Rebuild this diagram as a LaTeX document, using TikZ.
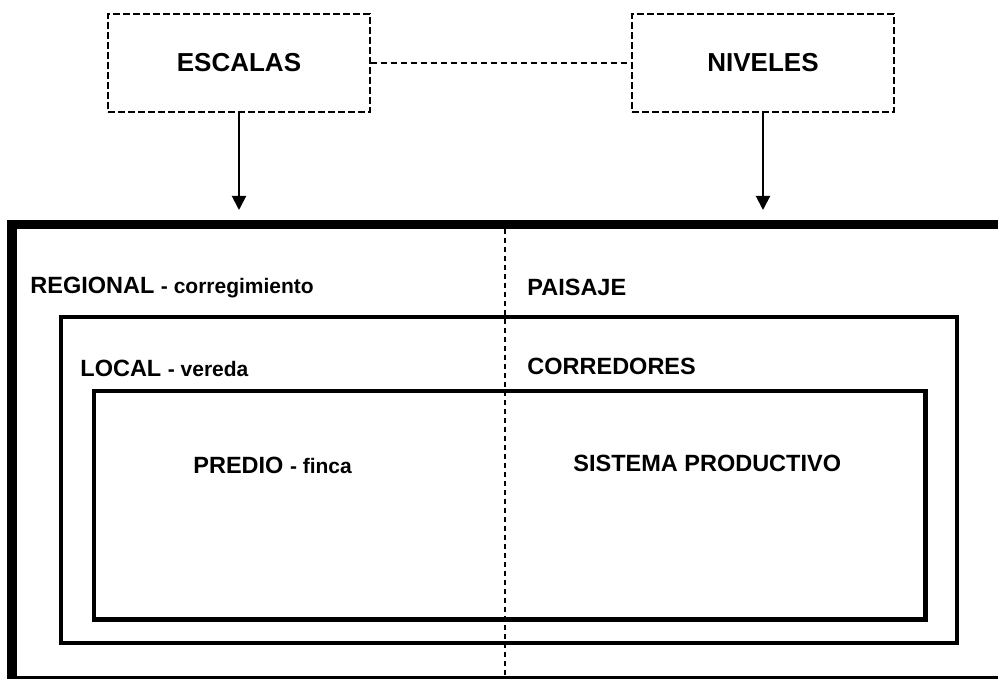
\documentclass[tikz,border=0pt]{standalone}
\usepackage{fontspec}
\setmainfont{Liberation Sans}
\usetikzlibrary{arrows.meta}

\newcommand*{\picw}{998}
\newcommand*{\pich}{679}

\begin{document}
\begin{tikzpicture}
[
	x=0.5pt, y=-0.5pt,
	topbox/.style={draw,dash pattern=on 3.3pt off 1.7pt,line width=0.65pt,minimum width=131pt,minimum height=49pt,inner sep=0pt,font=\fontsize{13}{15}\selectfont\bfseries},
	topline/.style={dash pattern=on 3.3pt off 1.7pt,line width=0.65pt},
	link/.style={line width=1pt,-{Triangle[width=7pt,length=7pt]}},
	outerframe/.style={line width=4.75pt},
	innerframe/.style={line width=2.25pt},
	divider/.style={dash pattern=on 2.5pt off 2pt,line width=0.65pt},
	scalelabel/.style={anchor=base west,inner sep=0pt,font=\fontsize{11.75}{14}\selectfont\bfseries},
	small/.style={font=\fontsize{10.5}{12}\selectfont\bfseries}
]

	\clip (0,0) rectangle (\picw,\pich);

	% top boxes
	\node[topbox] (escalas) at (239,63) {ESCALAS};
	\node[topbox] (niveles) at (763,63) {NIVELES};
	\draw[topline] (escalas) -- (niveles);

	% arrows
	\coordinate (escalas tip) at (239,210);
	\coordinate (niveles tip) at (763,210);
	\draw[link] (escalas) -- (escalas tip);
	\draw[link] (niveles) -- (niveles tip);

	% frames
	\draw[outerframe] (12,224.5) rectangle (1010,681);
	\draw[innerframe] (61,317) rectangle (957,643);
	\draw[innerframe] (94,391) rectangle (925.5,619.5);
	\draw[divider] (505,229) -- (505,\pich);

	% scales
	\node[scalelabel] (regional) at (30,294) {REGIONAL {\fontsize{10.5}{12}\selectfont- corregimiento}};
	\node[scalelabel] (local) at (80,377) {LOCAL {\fontsize{10.5}{12}\selectfont- vereda}};
	\node[scalelabel] (predio) at (193,474) {PREDIO {\fontsize{10.5}{12}\selectfont- finca}};

	% levels
	\node[scalelabel] (paisaje) at (527,296) {PAISAJE};
	\node[scalelabel] (corredores) at (527,375) {CORREDORES};
	\node[scalelabel] (sistema) at (573,472) {SISTEMA PRODUCTIVO};

\end{tikzpicture}
\end{document}
